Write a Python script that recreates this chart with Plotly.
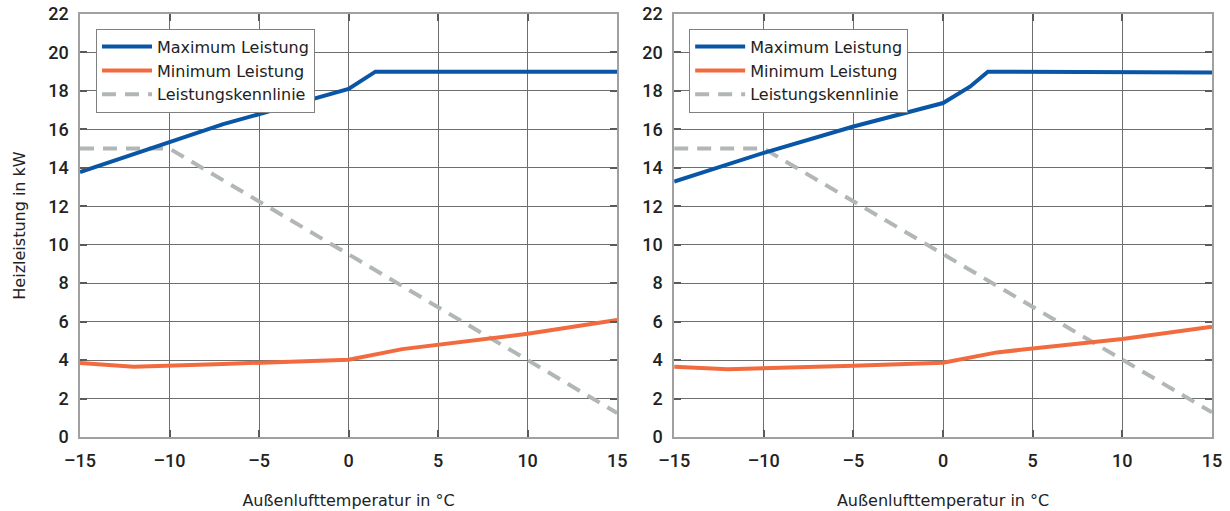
import plotly.graph_objects as go

# ---------------- data ----------------
x_ticks = [-15, -10, -5, 0, 5, 10, 15]
x_ticktext = ["–15", "–10", "–5", "0", "5", "10", "15"]
y_ticks = [0, 2, 4, 6, 8, 10, 12, 14, 16, 18, 20, 22]

names = ["Maximum Leistung", "Minimum Leistung", "Leistungskennlinie"]

# left chart
left_max_t = [-15, -12, -7, -4, 0, 1.5, 15]
left_max_v = [13.78, 14.72, 16.27, 17.05, 18.1, 19.0, 19.0]
left_min_t = [-15, -12, -7, -4, 0, 3, 7, 10, 15]
left_min_v = [3.85, 3.66, 3.8, 3.9, 4.02, 4.57, 5.0, 5.37, 6.08]
left_kl_t = [-15, -10, 15]
left_kl_v = [15, 15, 1.25]

# right chart
right_max_t = [-15, -10, -5, 0, 1.5, 2.5, 15]
right_max_v = [13.28, 14.78, 16.15, 17.37, 18.22, 19.0, 18.96]
right_min_t = [-15, -12, -5, 0, 3, 5, 10, 15]
right_min_v = [3.66, 3.52, 3.71, 3.86, 4.4, 4.6, 5.1, 5.73]
right_kl_t = [-15, -10, 15]
right_kl_v = [15, 15, 1.28]

# ---------------- style ----------------
BLUE = "#0a56a6"
ORANGE = "#f26b3f"
GREY = "#b1b6b6"
TICKFONT = "Roboto"
TEXTFONT = "DejaVu Sans"
TXT = "#222222"

fig = go.Figure()

def add_set(tmax, vmax, tmin, vmin, tkl, vkl, xa, ya, leg):
    fig.add_trace(go.Scatter(x=tkl, y=vkl, mode="lines", name=names[2],
                             line=dict(color=GREY, width=4, dash="14px,9px"),
                             xaxis=xa, yaxis=ya, legend=leg, legendrank=3))
    fig.add_trace(go.Scatter(x=tmin, y=vmin, mode="lines", name=names[1],
                             line=dict(color=ORANGE, width=4),
                             xaxis=xa, yaxis=ya, legend=leg, legendrank=2))
    fig.add_trace(go.Scatter(x=tmax, y=vmax, mode="lines", name=names[0],
                             line=dict(color=BLUE, width=4),
                             xaxis=xa, yaxis=ya, legend=leg, legendrank=1))

add_set(left_max_t, left_max_v, left_min_t, left_min_v, left_kl_t, left_kl_v, "x", "y", "legend")
add_set(right_max_t, right_max_v, right_min_t, right_min_v, right_kl_t, right_kl_v, "x2", "y2", "legend2")

W, H = 1230, 511
ML = 80
MT = 14.3
MR = W - 1211.7
MB = H - 437.3
PW = W - ML - MR
PH = H - MT - MB

def px_x(p):
    return (p - ML) / PW

def px_y(p):
    return 1 - (p - MT) / PH

xcommon = dict(range=[-15, 15], tickvals=x_ticks, ticktext=x_ticktext,
               showgrid=True, gridcolor="#6e6e6e", gridwidth=1,
               showline=True, linecolor="#a0a0a0", linewidth=1.5, mirror="allticks",
               ticks="inside", ticklen=7, tickwidth=2, tickcolor="#5a5a5a",
               zeroline=False, fixedrange=True, automargin=False,
               ticklabelstandoff=7, ticklabeloverflow="allow",
               tickfont=dict(family=TICKFONT, size=18, color=TXT, weight=500),
               title=dict(text="Außenlufttemperatur in °C", standoff=24,
                          font=dict(family=TEXTFONT, size=16, color=TXT)))
ycommon = dict(range=[0, 22], tickvals=y_ticks,
               showgrid=True, gridcolor="#6e6e6e", gridwidth=1,
               showline=True, linecolor="#a0a0a0", linewidth=1.5, mirror="allticks",
               ticks="inside", ticklen=7, tickwidth=2, tickcolor="#5a5a5a",
               zeroline=False, fixedrange=True, automargin=False,
               ticklabelstandoff=6, ticklabeloverflow="allow",
               tickfont=dict(family=TICKFONT, size=18, color=TXT, weight=500))

legcommon = dict(bgcolor="white", bordercolor="#808080", borderwidth=1,
                 font=dict(family=TEXTFONT, size=16, color=TXT),
                 xanchor="left", yanchor="top", y=px_y(29),
                 tracegroupgap=0, itemwidth=50)

fig.update_layout(
    width=W, height=H,
    margin=dict(l=ML, r=MR, t=MT, b=MB, autoexpand=False),
    paper_bgcolor="white", plot_bgcolor="white",
    showlegend=True,
    xaxis=dict(domain=[0, px_x(617)], anchor="y", **xcommon),
    yaxis=dict(domain=[0, 1], anchor="x",
               title=dict(text="Heizleistung in kW", standoff=19,
                          font=dict(family=TEXTFONT, size=16, color=TXT)),
               **ycommon),
    xaxis2=dict(domain=[px_x(674), 1], anchor="y2", **xcommon),
    yaxis2=dict(domain=[0, 1], anchor="x2", **ycommon),
    legend=dict(x=px_x(96), **legcommon),
    legend2=dict(x=px_x(689), **legcommon),
)

# remove the default 8px page margin so the figure fills the window exactly
fig.write_html("out.html",
               config={"displayModeBar": False},
               post_script="document.body.style.margin='0';document.body.style.overflow='hidden';")
